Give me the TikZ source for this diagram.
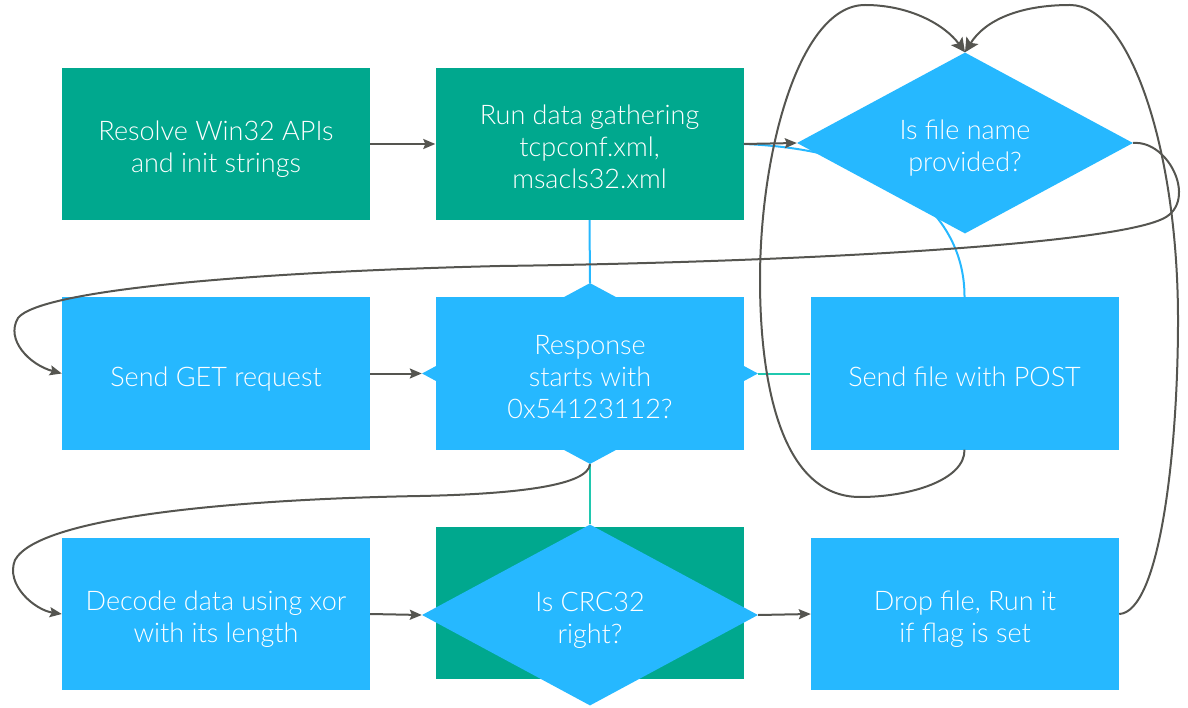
\documentclass[tikz,border=0pt]{standalone}
\usepackage{fontspec}
\setmainfont{Lato Light}
\usetikzlibrary{shapes.geometric,arrows.meta}
\definecolor{kgreen}{RGB}{0,168,142}
\definecolor{kblue}{RGB}{38,184,255}
\definecolor{kteal}{RGB}{32,200,175}
\definecolor{kgrey}{RGB}{85,85,80}
\begin{document}
\begin{tikzpicture}[x=1pt,y=-1pt,
  txt/.style={text=white, font=\fontsize{27}{32}\selectfont, align=center},
  nl/.style={execute at begin node={\rule[-5pt]{0pt}{#1}}},
  box/.style={txt, minimum width=308pt, minimum height=152pt, inner sep=0pt},
  gbox/.style={box, fill=kgreen},
  bbox/.style={box, fill=kblue},
  dia/.style={txt, diamond, aspect=1.87, minimum width=336pt, minimum height=181pt, inner sep=-20pt,
    fill=kblue},
  conn/.style={draw=kgrey, line width=2pt, -{Stealth[length=12pt,width=10pt,inset=2pt]}},
  loop/.style={draw=kgrey, line width=2pt, -{Stealth[length=14pt,width=14pt,inset=3pt]}},
  bconn/.style={draw=kblue, line width=2pt},
  tconn/.style={draw=kteal, line width=2pt}]
\useasboundingbox (0,0) rectangle (1188,708);
% nodes
\node[gbox, nl=67pt] (resolve) at (216,144) {Resolve Win32 APIs\\and init strings};
\node[gbox, nl=99pt] (gather) at (589.5,144) {Run data gathering\\tcpconf.xml,\\msacls32.xml};
\node[dia, nl=67pt] (fname) at (965,143) {Is file name\\provided?};
\node[bbox, nl=35pt] (get) at (216,373.5) {Send GET request};
\node[bbox] (respbox) at (589.5,373.5) {};
\node[dia, nl=99pt] (resp) at (590,373.5) {Response\\starts with\\0x54123112?};
\node[bbox, nl=35pt] (post) at (964.5,373.5) {Send file with POST};
\node[bbox, nl=67pt] (decode) at (216,614) {Decode data using xor\\with its length};
\node[gbox] (crcbox) at (589.5,603) {};
\node[dia, nl=67pt] (crc) at (590,615) {Is CRC32\\right?};
\node[bbox, nl=67pt] (drop) at (965,614) {Drop file, Run it\\if flag is set};
% connectors
\draw[bconn] (gather.east) .. controls (900,150) and (965,220) .. (post.north);
\draw[bconn] (gather.south) -- (resp.north);
\draw[tconn] (resp.east) -- (post.west);
\draw[tconn] (resp.south) -- (crc.north);
\draw[conn] (resolve.east) -- (gather.west);
\draw[conn] (gather.east) -- (fname.west);
\draw[conn] (get.east) -- (resp.west);
\draw[conn] (decode.east) -- (crc.west);
\draw[conn] (crc.east) -- (drop.west);
\draw[conn] (fname.east) .. controls (1170,140) and (1200,205) .. (1160,220)
  .. controls (1100,245) and (800,262) .. (500,266)
  .. controls (250,272) and (40,290) .. (18,318)
  .. controls (5,340) and (30,365) .. (get.west);
\draw[conn] (resp.south) .. controls (588,485) and (520,494) .. (420,496)
  .. controls (250,499) and (40,515) .. (15,560)
  .. controls (5,585) and (35,610) .. (decode.west);
\draw[loop] (drop.east) .. controls (1160,612) and (1178,450) .. (1178,320)
  .. controls (1178,150) and (1130,5) .. (1070,5)
  .. controls (1020,5) and (985,20) .. (fname.north);
\draw[loop] (post.south) .. controls (965,480) and (910,497) .. (860,497)
  .. controls (780,497) and (760,380) .. (760,280)
  .. controls (760,150) and (800,5) .. (865,5)
  .. controls (910,5) and (945,25) .. (fname.north);
\end{tikzpicture}
\end{document}
